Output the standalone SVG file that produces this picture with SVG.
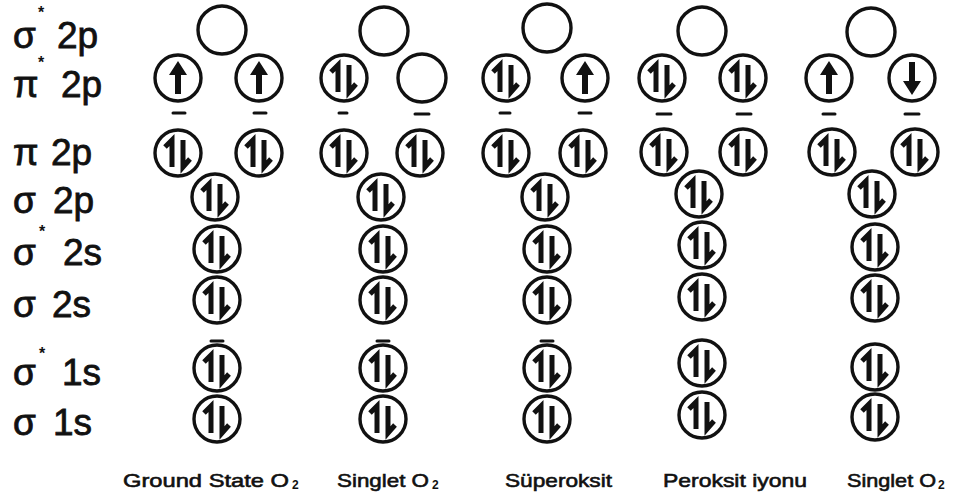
<svg xmlns="http://www.w3.org/2000/svg" xmlns:xlink="http://www.w3.org/1999/xlink" width="963" height="499" viewBox="0 0 963 499">
<style>
.orb{fill:none;stroke:#111;stroke-width:3.4}
.ar{fill:none;stroke:#111;stroke-width:5;stroke-linecap:butt;stroke-linejoin:miter}
.lab{font-family:"Liberation Sans",Arial,sans-serif;font-size:37px;fill:#111;stroke:#111;stroke-width:0.8}
.star{font-family:"Liberation Sans",Arial,sans-serif;font-size:16px;fill:#111;font-weight:bold}
.bot{font-family:"Liberation Sans",Arial,sans-serif;font-size:19px;fill:#111;stroke:#111;stroke-width:0.6}
.sub{font-family:"Liberation Sans",Arial,sans-serif;font-size:12px;fill:#111;font-weight:bold}
.frag{stroke:#111;stroke-width:3;stroke-linecap:round}
</style>
<defs>
<g id="empty"><circle class="orb" r="24"/></g>
<g id="pair"><circle class="orb" r="23"/><path class="ar" d="M-6,14 V-13 L-13,-6"/><path class="ar" d="M5,-13 V14 L12,6"/></g>
<g id="up"><circle class="orb" r="23"/><path d="M-3,16 V-3 H-9 L0,-17 L9,-3 H3 V16 Z" fill="#111"/></g>
<g id="down"><circle class="orb" r="23"/><path d="M-3,-16 V3 H-9 L0,17 L9,3 H3 V-16 Z" fill="#111"/></g>
</defs>
<rect width="963" height="499" fill="#fff"/>

<g id="labels">
<text class="lab" x="13" y="48">σ</text><text class="star" x="38" y="18">*</text><text class="lab" x="57" y="48">2p</text>
<text class="lab" x="13" y="97">π</text><text class="star" x="38" y="68">*</text><text class="lab" x="61" y="97">2p</text>
<text class="lab" x="13" y="165">π</text><text class="lab" x="51" y="165">2p</text>
<text class="lab" x="13" y="213">σ</text><text class="lab" x="53" y="213">2p</text>
<text class="lab" x="13" y="265">σ</text><text class="star" x="39" y="237">*</text><text class="lab" x="63" y="265">2s</text>
<text class="lab" x="13" y="317">σ</text><text class="lab" x="52" y="317">2s</text>
<text class="lab" x="13" y="385">σ</text><text class="star" x="39" y="359">*</text><text class="lab" x="62" y="385">1s</text>
<text class="lab" x="13" y="435">σ</text><text class="lab" x="53" y="435">1s</text>
</g>

<g id="col1">
<use xlink:href="#empty" x="222" y="30"/>
<use xlink:href="#up" x="178" y="78"/><use xlink:href="#up" x="259" y="78"/>
<use xlink:href="#pair" x="178" y="153"/><use xlink:href="#pair" x="259" y="153"/>
<use xlink:href="#pair" x="215" y="197"/>
<use xlink:href="#pair" x="217" y="249"/>
<use xlink:href="#pair" x="217" y="300"/>
<use xlink:href="#pair" x="217" y="368"/>
<use xlink:href="#pair" x="217" y="419"/>
</g>
<g id="col2">
<use xlink:href="#empty" x="384" y="31"/>
<use xlink:href="#pair" x="344" y="78"/><use xlink:href="#empty" x="422" y="78"/>
<use xlink:href="#pair" x="344" y="153"/><use xlink:href="#pair" x="420" y="153"/>
<use xlink:href="#pair" x="381" y="197"/>
<use xlink:href="#pair" x="383" y="249"/>
<use xlink:href="#pair" x="383" y="300"/>
<use xlink:href="#pair" x="383" y="368"/>
<use xlink:href="#pair" x="383" y="419"/>
</g>
<g id="col3">
<use xlink:href="#empty" x="547" y="28"/>
<use xlink:href="#pair" x="506" y="78"/><use xlink:href="#up" x="585" y="78"/>
<use xlink:href="#pair" x="506" y="153"/><use xlink:href="#pair" x="583" y="153"/>
<use xlink:href="#pair" x="545" y="197"/>
<use xlink:href="#pair" x="547" y="249"/>
<use xlink:href="#pair" x="547" y="300"/>
<use xlink:href="#pair" x="547" y="368"/>
<use xlink:href="#pair" x="547" y="419"/>
</g>
<g id="col4">
<use xlink:href="#empty" x="702" y="31"/>
<use xlink:href="#pair" x="662" y="78"/><use xlink:href="#pair" x="743" y="78"/>
<use xlink:href="#pair" x="664" y="152"/><use xlink:href="#pair" x="743" y="152"/>
<use xlink:href="#pair" x="699" y="194"/>
<use xlink:href="#pair" x="702" y="245"/>
<use xlink:href="#pair" x="702" y="297"/>
<use xlink:href="#pair" x="702" y="363"/>
<use xlink:href="#pair" x="702" y="415"/>
</g>
<g id="col5">
<use xlink:href="#empty" x="871" y="32"/>
<use xlink:href="#up" x="829" y="78"/><use xlink:href="#down" x="912" y="78"/>
<use xlink:href="#pair" x="832" y="152"/><use xlink:href="#pair" x="915" y="152"/>
<use xlink:href="#pair" x="872" y="194"/>
<use xlink:href="#pair" x="875" y="247"/>
<use xlink:href="#pair" x="875" y="298"/>
<use xlink:href="#pair" x="875" y="367"/>
<use xlink:href="#pair" x="875" y="417"/>
</g>

<g id="fragments">
<path class="frag" d="M173,113 h12 M254,113 h12 M339,113 h8 M415,114 h14 M500,113 h10 M579,113 h12 M657,114 h14 M737,114 h14 M823,114 h12 M905,114 h14"/>
<path class="frag" d="M211,341 h12 M377,341 h12 M541,341 h12"/>
</g>

<g id="captions">
<text class="bot" x="123" y="487" textLength="166" lengthAdjust="spacingAndGlyphs">Ground State O</text><text class="sub" x="292" y="489">2</text>
<text class="bot" x="337" y="487" textLength="92" lengthAdjust="spacingAndGlyphs">Singlet O</text><text class="sub" x="432" y="489">2</text>
<text class="bot" x="505" y="487" textLength="107" lengthAdjust="spacingAndGlyphs">Süperoksit</text>
<text class="bot" x="663" y="487" textLength="144" lengthAdjust="spacingAndGlyphs">Peroksit iyonu</text>
<text class="bot" x="847" y="487" textLength="89" lengthAdjust="spacingAndGlyphs">Singlet O</text><text class="sub" x="938" y="489">2</text>
</g>
</svg>
